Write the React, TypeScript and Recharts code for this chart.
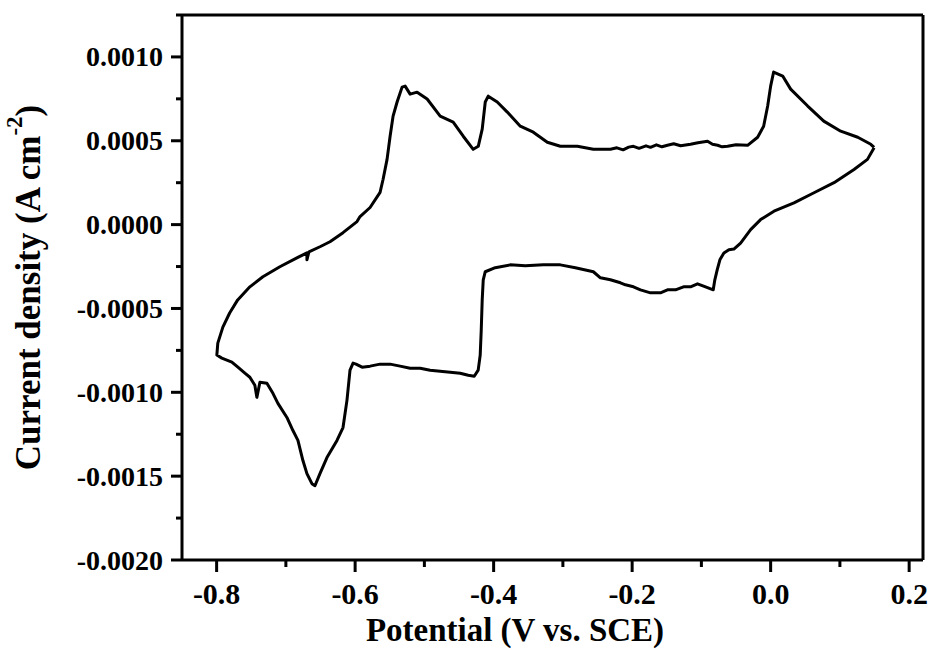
import React from 'react';
import { LineChart, Line, XAxis, YAxis, ReferenceLine, Label } from 'recharts';

// Cyclic voltammogram: potential (V vs. SCE) and current density (A cm^-2),
// listed in scan order around the closed loop.
const potential = [
  0.1494, 0.1398, 0.1204, 0.0915, 0.0626, 0.0337, 0.0048, -0.0145, -0.0289, -0.0434,
  -0.0531, -0.0603, -0.0675, -0.0733, -0.0771, -0.0806, -0.0829, -0.094, -0.1056, -0.1157,
  -0.1258, -0.1374, -0.149, -0.1591, -0.1735, -0.188, -0.1981, -0.2097, -0.2169, -0.2314,
  -0.2458, -0.256, -0.282, -0.3037, -0.3283, -0.3543, -0.376, -0.3977, -0.4121, -0.415,
  -0.4165, -0.4179, -0.4194, -0.4223, -0.428, -0.4367, -0.4483, -0.4627, -0.4772, -0.4917,
  -0.5061, -0.5206, -0.5351, -0.5495, -0.564, -0.5784, -0.59, -0.5987, -0.603, -0.6074,
  -0.6118, -0.6175, -0.6262, -0.6407, -0.6508, -0.658, -0.6624, -0.6696, -0.6754, -0.6826,
  -0.6898, -0.6985, -0.7115, -0.7187, -0.7274, -0.7375, -0.7419, -0.7448, -0.752, -0.7592,
  -0.7693, -0.778, -0.7925, -0.7997, -0.7983, -0.791, -0.7812, -0.7696, -0.752, -0.7332,
  -0.7087, -0.6841, -0.6696, -0.6696, -0.6667, -0.6508, -0.6363, -0.6175, -0.5973, -0.5929,
  -0.5784, -0.564, -0.5597, -0.5539, -0.5495, -0.5452, -0.5394, -0.5322, -0.5278, -0.5206,
  -0.5105, -0.496, -0.4772, -0.4584, -0.4439, -0.4295, -0.4222, -0.4165, -0.4121, -0.4078,
  -0.3948, -0.3803, -0.3615, -0.3427, -0.3225, -0.3037, -0.2791, -0.256, -0.2314, -0.222,
  -0.213, -0.205, -0.1981, -0.19, -0.18, -0.1735, -0.165, -0.157, -0.149, -0.14,
  -0.13, -0.1157, -0.105, -0.0911, -0.084, -0.0766, -0.07, -0.0622, -0.05, -0.0333,
  -0.0188, -0.0101, -0.0043, 0.0, 0.0043, 0.0174, 0.0289, 0.0535, 0.0767, 0.1012,
  0.1258, 0.1446, 0.1494,
];

const current = [
  4.59e-4, 3.89e-4, 3.29e-4, 2.5e-4, 1.9e-4, 1.3e-4, 0.8e-4, 0.3e-4, -0.3e-4, -1.1e-4,
  -1.46e-4, -1.5e-4, -1.69e-4, -2.1e-4, -2.69e-4, -3.29e-4, -3.89e-4, -3.71e-4, -3.53e-4, -3.71e-4,
  -3.71e-4, -3.89e-4, -3.89e-4, -4.07e-4, -4.07e-4, -3.89e-4, -3.71e-4, -3.59e-4, -3.47e-4, -3.29e-4,
  -3.17e-4, -2.81e-4, -2.57e-4, -2.4e-4, -2.4e-4, -2.46e-4, -2.4e-4, -2.57e-4, -2.81e-4, -3.29e-4,
  -4.49e-4, -6.29e-4, -7.78e-4, -8.68e-4, -9.04e-4, -8.98e-4, -8.86e-4, -8.8e-4, -8.74e-4, -8.68e-4,
  -8.56e-4, -8.56e-4, -8.44e-4, -8.32e-4, -8.32e-4, -8.44e-4, -8.5e-4, -8.32e-4, -8.26e-4, -8.68e-4,
  -10.48e-4, -12.1e-4, -12.87e-4, -13.89e-4, -14.85e-4, -15.57e-4, -15.45e-4, -14.85e-4, -14.07e-4, -12.87e-4,
  -12.28e-4, -11.5e-4, -10.66e-4, -10.06e-4, -9.46e-4, -9.4e-4, -10.3e-4, -9.58e-4, -9.1e-4, -8.86e-4,
  -8.5e-4, -8.2e-4, -7.96e-4, -7.78e-4, -7.07e-4, -6.11e-4, -5.27e-4, -4.49e-4, -3.71e-4, -3.11e-4,
  -2.51e-4, -1.98e-4, -1.68e-4, -2.1e-4, -1.62e-4, -1.32e-4, -1.02e-4, -0.48e-4, 0.18e-4, 0.48e-4,
  1.02e-4, 1.92e-4, 2.69e-4, 3.89e-4, 5.27e-4, 6.47e-4, 7.31e-4, 8.2e-4, 8.26e-4, 7.78e-4,
  7.9e-4, 7.49e-4, 6.47e-4, 6.11e-4, 5.27e-4, 4.49e-4, 4.67e-4, 5.69e-4, 7.31e-4, 7.66e-4,
  7.31e-4, 6.71e-4, 5.87e-4, 5.51e-4, 4.91e-4, 4.67e-4, 4.67e-4, 4.49e-4, 4.49e-4, 4.58e-4,
  4.46e-4, 4.62e-4, 4.67e-4, 4.55e-4, 4.7e-4, 4.61e-4, 4.76e-4, 4.64e-4, 4.73e-4, 4.82e-4,
  4.7e-4, 4.79e-4, 4.88e-4, 4.97e-4, 4.79e-4, 4.73e-4, 4.64e-4, 4.67e-4, 4.76e-4, 4.73e-4,
  5.21e-4, 5.87e-4, 7.07e-4, 8.26e-4, 9.1e-4, 8.86e-4, 8.08e-4, 7.07e-4, 6.17e-4, 5.57e-4,
  5.21e-4, 4.79e-4, 4.61e-4,
];

const xTicks = [-0.8, -0.7, -0.6, -0.5, -0.4, -0.3, -0.2, -0.1, 0.0, 0.1, 0.2];
const xLabels = ['-0.8', '', '-0.6', '', '-0.4', '', '-0.2', '', '0.0', '', '0.2'];
const yTicks = [
  -0.002, -0.00175, -0.0015, -0.00125, -0.001, -0.00075, -0.0005, -0.00025,
  0, 0.00025, 0.0005, 0.00075, 0.001, 0.00125,
];
const yLabels = [
  '-0.0020', '', '-0.0015', '', '-0.0010', '', '-0.0005', '',
  '0.0000', '', '0.0005', '', '0.0010', '',
];

const xDomain = [-0.85, 0.22];
const yDomain = [-0.002, 0.00125];

const data = potential.map((v, i) => ({ v, j: current[i] }));

const FONT = '"Liberation Serif", "Times New Roman", serif';

const XTick = (props: any) => {
  const { x, y, index } = props;
  const label = xLabels[index] ?? '';
  const major = label !== '';
  return (
    <g>
      <line x1={x} x2={x} y1={y} y2={y + (major ? 12 : 7)} stroke="#000" strokeWidth={3} />
      {major && (
        <text x={x} y={y + 33} textAnchor="middle" dominantBaseline="central"
          fontFamily={FONT} fontWeight="bold" fontSize={30} fill="#000">
          {label}
        </text>
      )}
    </g>
  );
};

const YTick = (props: any) => {
  const { x, y, index } = props;
  const label = yLabels[index] ?? '';
  const major = label !== '';
  return (
    <g>
      <line x1={x} x2={x - (major ? 11 : 6)} y1={y} y2={y} stroke="#000" strokeWidth={3} />
      {major && (
        <text x={x - 19} y={y} textAnchor="end" dominantBaseline="central"
          fontFamily={FONT} fontWeight="bold" fontSize={28} fill="#000">
          {label}
        </text>
      )}
    </g>
  );
};

const XTitle = () => (
  <text x={515} y={630} textAnchor="middle" dominantBaseline="central"
    fontFamily={FONT} fontWeight="bold" fontSize={33} fill="#000">
    Potential (V vs. SCE)
  </text>
);

const YTitle = (props: any) => {
  const vb = props.viewBox || {};
  const cy = (vb.y ?? 15) + (vb.height ?? 545) / 2;
  const cx = 28;
  return (
    <text x={cx} y={cy} transform={`rotate(-90, ${cx}, ${cy})`} textAnchor="middle"
      dominantBaseline="central" fontFamily={FONT} fontWeight="bold" fontSize={35} fill="#000">
      <tspan>Current density (A cm</tspan>
      <tspan dy={-14} fontSize={23}>-2</tspan>
      <tspan dy={14}>)</tspan>
    </text>
  );
};

export default function App() {
  return (
    <div style={{ position: 'absolute', left: 0, top: 0, width: 931, height: 650, background: '#fff' }}>
      <LineChart width={931} height={650} data={data}
        margin={{ top: 15, right: 8, bottom: 0, left: 0 }}>
        <XAxis type="number" dataKey="v" domain={xDomain} ticks={xTicks} interval={0}
          allowDataOverflow height={90} axisLine={{ stroke: '#000', strokeWidth: 3 }}
          tickLine={false} tickSize={0} tickMargin={0} tick={<XTick />}>
          <Label content={<XTitle />} />
        </XAxis>
        <YAxis type="number" domain={yDomain} ticks={yTicks} interval={0}
          allowDataOverflow width={182} axisLine={{ stroke: '#000', strokeWidth: 3 }}
          tickLine={false} tickSize={0} tickMargin={0} tick={<YTick />}>
          <Label content={<YTitle />} />
        </YAxis>
        <ReferenceLine y={yDomain[1]} stroke="#000" strokeWidth={3} />
        <ReferenceLine x={xDomain[1]} stroke="#000" strokeWidth={3} />
        <Line type="linear" dataKey="j" stroke="#000" strokeWidth={3} dot={false}
          strokeLinejoin="round" isAnimationActive={false} />
      </LineChart>
    </div>
  );
}
